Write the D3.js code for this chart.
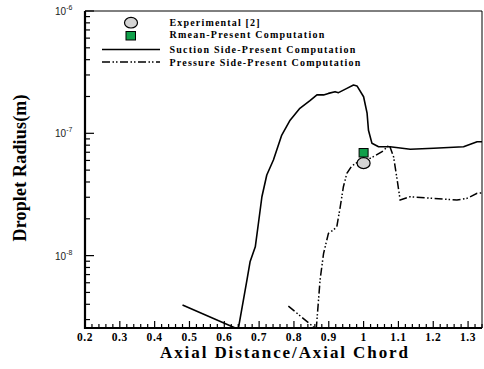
<!DOCTYPE html>
<html>
<head>
<meta charset="utf-8">
<script src="https://cdn.jsdelivr.net/npm/d3@7"></script>
<style>
  body { margin: 0; background: #fff; }
  svg { display: block; }
</style>
</head>
<body>
<script>
// suction side, present computation
const suctionX = [0.480, 0.640, 0.665, 0.674, 0.689, 0.698, 0.708, 0.722, 0.741, 0.765, 0.789, 0.817,
  0.846, 0.866, 0.885, 0.899, 0.918, 0.928, 0.952, 0.971, 0.981, 1.000, 1.010, 1.014, 1.024, 1.043,
  1.076, 1.134, 1.201, 1.287, 1.326, 1.345];
const suctionR = [3.94e-9, 2.5e-9, 6.31e-9, 8.9e-9, 1.18e-8, 1.84e-8, 3.03e-8, 4.56e-8, 6.05e-8, 9.68e-8, 1.28e-7, 1.60e-7,
  1.85e-7, 2.06e-7, 2.06e-7, 2.12e-7, 2.19e-7, 2.15e-7, 2.33e-7, 2.48e-7, 2.44e-7, 1.99e-7, 1.46e-7, 1.06e-7, 8.28e-8, 7.77e-8,
  7.77e-8, 7.4e-8, 7.54e-8, 7.77e-8, 8.53e-8, 8.53e-8];

// pressure side, present computation
const pressureX = [0.784, 0.864, 0.875, 0.885, 0.899, 0.913, 0.923, 0.933, 0.942, 0.952, 0.966, 0.985,
  1.009, 1.028, 1.053, 1.074, 1.086, 1.095, 1.105, 1.134, 1.201, 1.268, 1.297, 1.326, 1.345];
const pressureR = [3.87e-9, 2.5e-9, 6.31e-9, 1.04e-8, 1.52e-8, 1.62e-8, 1.72e-8, 2.51e-8, 3.66e-8, 4.71e-8, 5.41e-8, 5.86e-8,
  6.05e-8, 6.44e-8, 7.08e-8, 8.02e-8, 6.44e-8, 4.42e-8, 2.85e-8, 3.03e-8, 2.94e-8, 2.85e-8, 2.94e-8, 3.23e-8, 3.27e-8];

// single points
const experimentalX = [1.0];
const experimentalR = [5.7e-8];
const rmeanX = [1.0];
const rmeanR = [6.9e-8];

const xTicks = [0.2, 0.3, 0.4, 0.5, 0.6, 0.7, 0.8, 0.9, 1, 1.1, 1.2, 1.3];
const yDecades = [-8, -7, -6];

const legendLabels = [
  'Experimental [2]',
  'Rmean-Present Computation',
  'Suction Side-Present Computation',
  'Pressure Side-Present Computation'
];

const width = 484;
const height = 369;
const mLeft = 85, mRight = 482, mTop = 11, mBottom = 328;
const dashDot = '8,2.5,1.5,2,1.5,2.5';

const x = d3.scaleLinear().domain([0.2, 1.34]).range([mLeft, mRight]);
const y = d3.scaleLog().domain([2.56e-9, 1e-6]).range([mBottom, mTop]);

const svg = d3.select('body')
  .append('svg')
  .attr('width', width)
  .attr('height', height);

svg.append('defs').append('clipPath')
  .attr('id', 'plot')
  .append('rect')
  .attr('x', mLeft).attr('y', mTop)
  .attr('width', mRight - mLeft).attr('height', mBottom - mTop);

// frame: thin top/right
svg.append('path')
  .attr('d', `M${mLeft},${mTop}H${mRight}V${mBottom}`)
  .attr('fill', 'none')
  .attr('stroke', '#000')
  .attr('stroke-width', 1);

// x ticks
const xMinor = d3.range(0.2, 1.3401, 0.02).map(v => +v.toFixed(2));
svg.append('g')
  .selectAll('line')
  .data(xMinor)
  .enter()
  .append('line')
  .attr('x1', d => x(d)).attr('x2', d => x(d))
  .attr('y1', mBottom)
  .attr('y2', d => Math.abs(d * 10 - Math.round(d * 10)) < 1e-6 ? mBottom - 7 : mBottom - 4)
  .attr('stroke', '#000')
  .attr('stroke-width', 1.2);

svg.append('g')
  .selectAll('text')
  .data(xTicks)
  .enter()
  .append('text')
  .attr('x', d => x(d))
  .attr('y', 341)
  .attr('text-anchor', 'middle')
  .attr('font-family', 'Liberation Serif, serif')
  .attr('font-weight', 'bold')
  .attr('font-size', 11.5)
  .attr('letter-spacing', 0.6)
  .text(d => d);

// y ticks
const yMinor = [];
[-9, -8, -7].forEach(e => {
  for (let m = 1; m < 10; m++) {
    const v = m * Math.pow(10, e);
    if (v >= 2.56e-9 && v <= 1e-6) yMinor.push({v: v, major: m === 1});
  }
});
yMinor.push({v: 1e-6, major: true});
svg.append('g')
  .selectAll('line')
  .data(yMinor)
  .enter()
  .append('line')
  .attr('x1', mLeft)
  .attr('x2', d => d.major ? mLeft + 9 : mLeft + 5)
  .attr('y1', d => y(d.v)).attr('y2', d => y(d.v))
  .attr('stroke', '#000')
  .attr('stroke-width', 1.2);

const yLab = svg.append('g')
  .selectAll('text')
  .data(yDecades)
  .enter()
  .append('text')
  .attr('x', 55)
  .attr('y', d => y(Math.pow(10, d)) + 4)
  .attr('font-family', 'Liberation Sans, Arial, sans-serif')
  .attr('font-size', 10)
  .attr('fill', '#222');
yLab.append('tspan').text('10');
yLab.append('tspan')
  .attr('dy', -5)
  .attr('font-size', 7)
  .text(d => d);

// axes lines (thick)
svg.append('path')
  .attr('d', `M${mLeft},${mTop}V${mBottom}H${mRight}`)
  .attr('fill', 'none')
  .attr('stroke', '#000')
  .attr('stroke-width', 2.2);

// axis titles
svg.append('text')
  .attr('x', 284)
  .attr('y', 358)
  .attr('text-anchor', 'middle')
  .attr('font-family', 'Liberation Serif, serif')
  .attr('font-weight', 'bold')
  .attr('font-size', 17)
  .attr('textLength', 248)
  .attr('lengthAdjust', 'spacing')
  .text('Axial Distance/Axial Chord');

svg.append('text')
  .attr('transform', 'translate(26,168) rotate(-90)')
  .attr('text-anchor', 'middle')
  .attr('font-family', 'Liberation Serif, serif')
  .attr('font-weight', 'bold')
  .attr('font-size', 18)
  .attr('textLength', 147)
  .attr('lengthAdjust', 'spacing')
  .text('Droplet Radius(m)');

// lines
const line = d3.line()
  .x(d => x(d[0]))
  .y(d => y(d[1]));

const plot = svg.append('g').attr('clip-path', 'url(#plot)');

plot.append('path')
  .datum(d3.zip(suctionX, suctionR))
  .attr('d', line)
  .attr('fill', 'none')
  .attr('stroke', '#000')
  .attr('stroke-width', 1.6)
  .attr('stroke-linejoin', 'round');

plot.append('path')
  .datum(d3.zip(pressureX, pressureR))
  .attr('d', line)
  .attr('fill', 'none')
  .attr('stroke', '#000')
  .attr('stroke-width', 1.5)
  .attr('stroke-dasharray', dashDot);

// markers
svg.append('g')
  .selectAll('ellipse')
  .data(d3.zip(experimentalX, experimentalR))
  .enter()
  .append('ellipse')
  .attr('cx', d => x(d[0]))
  .attr('cy', d => y(d[1]))
  .attr('rx', 6.5).attr('ry', 5.5)
  .attr('fill', '#d4d4d4')
  .attr('stroke', '#000')
  .attr('stroke-width', 1.2);

svg.append('g')
  .selectAll('rect')
  .data(d3.zip(rmeanX, rmeanR))
  .enter()
  .append('rect')
  .attr('x', d => x(d[0]) - 4.5)
  .attr('y', d => y(d[1]) - 4.5)
  .attr('width', 9).attr('height', 8.5)
  .attr('fill', '#10a04a')
  .attr('stroke', '#000')
  .attr('stroke-width', 1);

// legend
const lg = svg.append('g');
lg.append('ellipse')
  .attr('cx', 131).attr('cy', 22.7)
  .attr('rx', 6.5).attr('ry', 5.3)
  .attr('fill', '#d4d4d4').attr('stroke', '#000').attr('stroke-width', 1.2);
lg.append('rect')
  .attr('x', 126).attr('y', 31.5)
  .attr('width', 9.5).attr('height', 8.5)
  .attr('fill', '#10a04a').attr('stroke', '#000').attr('stroke-width', 1);
lg.append('line')
  .attr('x1', 102).attr('x2', 160).attr('y1', 49.5).attr('y2', 49.5)
  .attr('stroke', '#000').attr('stroke-width', 1.6);
lg.append('line')
  .attr('x1', 102).attr('x2', 160).attr('y1', 62).attr('y2', 62)
  .attr('stroke', '#000').attr('stroke-width', 1.5)
  .attr('stroke-dasharray', dashDot);

const legendY = [26, 38.3, 53, 65.7];
const legendW = [90, 154.7, 185.7, 190.7];
lg.selectAll('text')
  .data(legendLabels)
  .enter()
  .append('text')
  .attr('x', 169.5)
  .attr('y', (d, i) => legendY[i])
  .attr('font-family', 'Liberation Serif, serif')
  .attr('font-weight', 'bold')
  .attr('font-size', 10)
  .attr('textLength', (d, i) => legendW[i])
  .attr('lengthAdjust', 'spacing')
  .text(d => d);
</script>
</body>
</html>
